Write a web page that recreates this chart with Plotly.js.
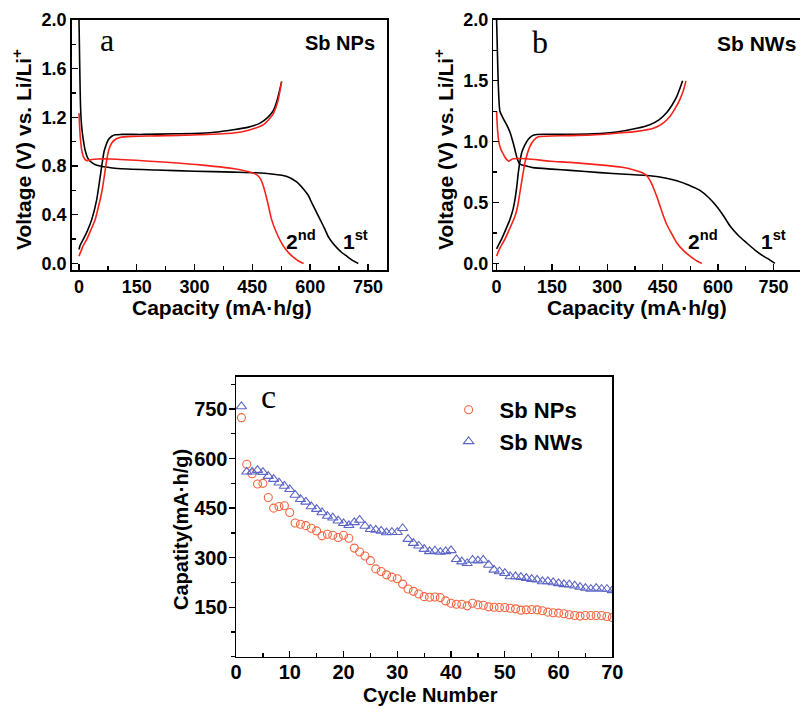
<!DOCTYPE html>
<html>
<head>
<meta charset="utf-8">
<script src="https://cdn.plot.ly/plotly-3.0.1.min.js"></script>
<style>
html,body{margin:0;padding:0;background:#fff;}
#chart{width:800px;height:706px;}
</style>
</head>
<body>
<div id="chart"></div>
<script>
// ---------- Panel a : Sb NPs ----------
const aDis1X = [0, 1, 2, 3, 4.3, 7, 11, 16, 22, 29, 40, 55, 100, 200, 300, 400, 460, 500, 540, 565, 583, 595, 604, 615, 626, 637, 647, 658, 669, 682, 695, 710, 725];
const aDis1Y = [2.0, 1.8, 1.6, 1.42, 1.26, 1.12, 1.02, 0.93, 0.87, 0.84, 0.815, 0.80, 0.78, 0.768, 0.758, 0.75, 0.745, 0.735, 0.715, 0.67, 0.61, 0.56, 0.50, 0.43, 0.36, 0.29, 0.22, 0.17, 0.13, 0.09, 0.06, 0.025, 0.0];
const aDis2X = [0, 1, 2.6, 5, 7, 11, 15.6, 20, 30, 50, 80, 184, 314, 418, 461, 472, 479, 486, 492, 500, 513, 531, 545, 557, 570, 583];
const aDis2Y = [1.235, 1.17, 1.07, 0.98, 0.93, 0.88, 0.855, 0.845, 0.852, 0.858, 0.858, 0.84, 0.81, 0.77, 0.73, 0.69, 0.63, 0.55, 0.47, 0.36, 0.25, 0.14, 0.085, 0.05, 0.02, 0.0];
const aChg1X = [0, 3, 11, 22, 33, 46, 54, 60, 65, 70, 76, 85, 94, 110, 167, 250, 314, 360, 401, 440, 470, 490, 505, 515, 526];
const aChg1Y = [0.115, 0.15, 0.197, 0.27, 0.36, 0.525, 0.69, 0.82, 0.92, 0.97, 1.016, 1.045, 1.057, 1.06, 1.06, 1.065, 1.07, 1.08, 1.098, 1.12, 1.153, 1.2, 1.26, 1.35, 1.494];
const aChg2X = [0, 5, 10, 20, 30, 42, 50, 55, 60, 65, 72, 78, 85, 95, 106, 141, 200, 314, 401, 440, 479, 495, 505, 516, 526];
const aChg2Y = [0.06, 0.1, 0.14, 0.197, 0.27, 0.36, 0.46, 0.525, 0.6, 0.7, 0.85, 0.94, 0.99, 1.02, 1.035, 1.044, 1.048, 1.057, 1.071, 1.095, 1.14, 1.19, 1.235, 1.33, 1.494];

// ---------- Panel b : Sb NWs ----------
const bDis1X = [0, 1, 2, 4.5, 9, 18, 27, 36, 45, 50, 56, 63, 75, 99, 150, 200, 280, 350, 415, 460, 488, 520, 551, 575, 596, 615, 632, 655, 677, 700, 723, 740, 754];
const bDis1Y = [2.0, 1.88, 1.76, 1.48, 1.25, 1.19, 1.14, 1.08, 0.99, 0.93, 0.86, 0.815, 0.805, 0.787, 0.775, 0.765, 0.746, 0.733, 0.72, 0.70, 0.68, 0.645, 0.6, 0.54, 0.47, 0.39, 0.31, 0.23, 0.17, 0.11, 0.06, 0.03, 0.0];
const bDis2X = [0, 1, 3, 6, 9, 14, 18, 23, 27, 33, 38, 45, 81, 145, 200, 280, 340, 370, 395, 407, 416, 425, 434, 443, 452, 461, 475, 488, 505, 524, 540, 556];
const bDis2Y = [1.25, 1.18, 1.08, 1.0, 0.96, 0.92, 0.9, 0.87, 0.855, 0.84, 0.85, 0.86, 0.86, 0.84, 0.83, 0.81, 0.79, 0.77, 0.745, 0.72, 0.68, 0.62, 0.55, 0.47, 0.39, 0.32, 0.24, 0.17, 0.11, 0.06, 0.025, 0.0];
const bChg1X = [0, 5, 13.5, 25, 36, 45, 50, 55, 59, 64, 68, 76, 86, 97, 108, 190, 260, 325, 380, 415, 440, 461, 475, 488, 497, 504];
const bChg1Y = [0.12, 0.15, 0.2, 0.28, 0.36, 0.45, 0.53, 0.64, 0.75, 0.85, 0.91, 0.97, 1.02, 1.05, 1.06, 1.06, 1.065, 1.08, 1.11, 1.14, 1.18, 1.24, 1.3, 1.37, 1.44, 1.5];
const bChg2X = [0, 8, 22.6, 36, 50, 57, 63, 70, 77, 84, 90, 100, 113, 190, 260, 325, 380, 425, 450, 470, 485, 497, 506, 513];
const bChg2Y = [0.06, 0.12, 0.2, 0.29, 0.39, 0.47, 0.58, 0.71, 0.83, 0.91, 0.96, 1.01, 1.04, 1.05, 1.055, 1.07, 1.085, 1.11, 1.15, 1.21, 1.28, 1.35, 1.42, 1.5];

// ---------- Panel c : cycling ----------
const cycles = Array.from({length: 70}, (_, i) => i + 1);
const npsCap = [724, 583, 554, 523, 525, 482, 450, 455, 457, 437,
  405, 401, 397, 389, 381, 366, 371, 368, 361, 368,
  359, 329, 317, 305, 291, 266, 258, 248, 241, 236,
  220, 205, 198, 190, 182, 180, 181, 179, 169, 162,
  159, 159, 154, 162, 157, 156, 151, 150, 149, 149,
  147, 145, 141, 142, 143, 142, 139, 135, 133, 132,
  130, 127, 125, 123, 125, 125, 125, 125, 122, 119];
const nwsCap = [758, 560, 560, 565, 559, 547, 538, 527, 517, 507,
  490, 477, 469, 455, 447, 437, 426, 421, 412, 404,
  398, 407, 414, 396, 386, 384, 381, 376, 377, 377,
  389, 356, 344, 336, 326, 319, 321, 317, 319, 322,
  295, 288, 283, 293, 291, 293, 278, 263, 258, 253,
  243, 243, 241, 238, 235, 233, 228, 228, 225, 222,
  219, 218, 215, 211, 208, 205, 208, 205, 205, 201];

const seriesNames = ['Sb NPs', 'Sb NWs'];
const xTicksAB = [0, 150, 300, 450, 600, 750];
const yTicksC = [150, 300, 450, 600, 750];

const BLACK = '#000000', RED = '#f5221a', ORANGE = '#f2643f', BLUE = '#5c66c6';
const FONT = 'Liberation Sans, Arial, sans-serif';
const SERIF = 'Liberation Serif, Times New Roman, serif';

function line(x, y, color, xa, ya) {
  return {x: x, y: y, xaxis: xa, yaxis: ya, type: 'scatter', mode: 'lines',
    line: {color: color, width: 1.6, shape: 'spline', smoothing: 0.6},
    showlegend: false, hoverinfo: 'skip'};
}

const traces = [
  line(aDis1X, aDis1Y, BLACK, 'x', 'y'),
  line(aChg1X, aChg1Y, BLACK, 'x', 'y'),
  line(aDis2X, aDis2Y, RED, 'x', 'y'),
  line(aChg2X, aChg2Y, RED, 'x', 'y'),
  line(bDis1X, bDis1Y, BLACK, 'x2', 'y2'),
  line(bChg1X, bChg1Y, BLACK, 'x2', 'y2'),
  line(bDis2X, bDis2Y, RED, 'x2', 'y2'),
  line(bChg2X, bChg2Y, RED, 'x2', 'y2'),
  {x: cycles, y: npsCap, xaxis: 'x3', yaxis: 'y3', type: 'scatter', mode: 'markers', name: seriesNames[0],
   marker: {symbol: 'circle-open', size: 8, color: ORANGE, line: {width: 1.1, color: ORANGE}}},
  {x: cycles, y: nwsCap, xaxis: 'x3', yaxis: 'y3', type: 'scatter', mode: 'markers', name: seriesNames[1],
   marker: {symbol: 'triangle-up-open', size: 9, color: BLUE, line: {width: 1.1, color: BLUE}}}
];

const tickFontAB = {family: FONT, size: 18, color: '#000', weight: 'bold'};
const tickFontC = {family: FONT, size: 20, color: '#000', weight: 'bold'};

function axisBase(extra) {
  return Object.assign({
    showline: true, linecolor: '#000', linewidth: 1.5, mirror: true,
    showgrid: false, zeroline: false, automargin: false,
    ticks: 'inside', ticklen: 6, tickwidth: 1.3, tickcolor: '#000'
  }, extra);
}

const layout = {
  width: 800, height: 706,
  margin: {l: 0, r: 0, t: 0, b: 0},
  paper_bgcolor: '#fff', plot_bgcolor: '#fff',
  showlegend: true,
  legend: {x: 0.547, y: 0.449, xanchor: 'left', yanchor: 'top',
    font: {family: FONT, size: 22, color: '#000', weight: 'bold'},
    bgcolor: 'rgba(0,0,0,0)', itemwidth: 52, tracegroupgap: 0},
  xaxis: axisBase({domain: [0.0896, 0.484], anchor: 'y', range: [-19, 800],
    tickmode: 'array', tickvals: xTicksAB, tickfont: tickFontAB,
    minor: {dtick: 75, tick0: 0, ticks: 'inside', ticklen: 4, tickcolor: '#000'}}),
  yaxis: axisBase({domain: [0.617, 0.9717], anchor: 'x', range: [-0.057, 2.0],
    tick0: 0, dtick: 0.4, tickformat: '.1f', tickfont: tickFontAB,
    minor: {dtick: 0.2, tick0: 0, ticks: 'inside', ticklen: 4, tickcolor: '#000'}}),
  xaxis2: axisBase({domain: [0.6166, 1.0], anchor: 'y2', range: [-9, 822],
    tickmode: 'array', tickvals: xTicksAB, tickfont: tickFontAB,
    minor: {dtick: 75, tick0: 0, ticks: 'inside', ticklen: 4, tickcolor: '#000'}}),
  yaxis2: axisBase({domain: [0.617, 0.9717], anchor: 'x2', range: [-0.057, 2.0], mirror: false,
    tick0: 0, dtick: 0.5, tickformat: '.1f', tickfont: tickFontAB,
    minor: {dtick: 0.25, tick0: 0, ticks: 'inside', ticklen: 4, tickcolor: '#000'}}),
  xaxis3: axisBase({domain: [0.295, 0.7654], anchor: 'y3', range: [0, 70],
    tick0: 0, dtick: 10, tickfont: tickFontC, ticklabelstandoff: -3,
    minor: {dtick: 5, tick0: 0, ticks: 'inside', ticklen: 4, tickcolor: '#000'}}),
  yaxis3: axisBase({domain: [0.0698, 0.4664], anchor: 'x3', range: [0, 848],
    tickmode: 'array', tickvals: yTicksC, tickfont: tickFontC, ticks: 'outside', ticklen: 6,
    ticklabelstandoff: -3,
    minor: {dtick: 75, tick0: 0, ticks: 'outside', ticklen: 4, tickcolor: '#000'}}),
  annotations: [
    // axis titles
    {text: 'Voltage (V) vs. Li/Li<sup>+</sup>', xref: 'paper', yref: 'paper', x: 22/800, y: 1 - 150/706,
     textangle: -90, showarrow: false, xanchor: 'center', yanchor: 'middle',
     font: {family: FONT, size: 21, color: '#000', weight: 'bold'}},
    {text: 'Capacity (mA·h/g)', xref: 'paper', yref: 'paper', x: 222/800, y: 1 - 308/706,
     showarrow: false, xanchor: 'center', yanchor: 'middle',
     font: {family: FONT, size: 21, color: '#000', weight: 'bold'}},
    {text: 'Voltage (V) vs. Li/Li<sup>+</sup>', xref: 'paper', yref: 'paper', x: 444/800, y: 1 - 150/706,
     textangle: -90, showarrow: false, xanchor: 'center', yanchor: 'middle',
     font: {family: FONT, size: 21, color: '#000', weight: 'bold'}},
    {text: 'Capacity (mA·h/g)', xref: 'paper', yref: 'paper', x: 637/800, y: 1 - 308/706,
     showarrow: false, xanchor: 'center', yanchor: 'middle',
     font: {family: FONT, size: 21, color: '#000', weight: 'bold'}},
    {text: 'Capatity(mA·h/g)', xref: 'paper', yref: 'paper', x: 181/800, y: 1 - 530/706,
     textangle: -90, showarrow: false, xanchor: 'center', yanchor: 'middle',
     font: {family: FONT, size: 20, color: '#000', weight: 'bold'}},
    {text: 'Cycle Number', xref: 'paper', yref: 'paper', x: 431/800, y: 1 - 695/706,
     showarrow: false, xanchor: 'center', yanchor: 'middle',
     font: {family: FONT, size: 20, color: '#000', weight: 'bold'}},
    // panel letters
    {text: 'a', xref: 'paper', yref: 'paper', x: 107/800, y: 1 - 40/706, showarrow: false,
     xanchor: 'center', yanchor: 'middle', font: {family: SERIF, size: 32, color: '#000'}},
    {text: 'b', xref: 'paper', yref: 'paper', x: 540/800, y: 1 - 42/706, showarrow: false,
     xanchor: 'center', yanchor: 'middle', font: {family: SERIF, size: 32, color: '#000'}},
    {text: 'c', xref: 'paper', yref: 'paper', x: 268/800, y: 1 - 396/706, showarrow: false,
     xanchor: 'center', yanchor: 'middle', font: {family: SERIF, size: 34, color: '#000'}},
    // sample labels
    {text: 'Sb NPs', xref: 'paper', yref: 'paper', x: 340/800, y: 1 - 43/706, showarrow: false,
     xanchor: 'center', yanchor: 'middle', font: {family: FONT, size: 20, color: '#000', weight: 'bold'}},
    {text: 'Sb NWs', xref: 'paper', yref: 'paper', x: 756/800, y: 1 - 44/706, showarrow: false,
     xanchor: 'center', yanchor: 'middle', font: {family: FONT, size: 21, color: '#000', weight: 'bold'}},
    // cycle labels
    {text: '2<sup>nd</sup>', xref: 'x', yref: 'y', x: 577, y: 0.19, showarrow: false,
     xanchor: 'center', yanchor: 'middle', font: {family: FONT, size: 21, color: '#000', weight: 'bold'}},
    {text: '1<sup>st</sup>', xref: 'x', yref: 'y', x: 717, y: 0.19, showarrow: false,
     xanchor: 'center', yanchor: 'middle', font: {family: FONT, size: 21, color: '#000', weight: 'bold'}},
    {text: '2<sup>nd</sup>', xref: 'x2', yref: 'y2', x: 559, y: 0.19, showarrow: false,
     xanchor: 'center', yanchor: 'middle', font: {family: FONT, size: 21, color: '#000', weight: 'bold'}},
    {text: '1<sup>st</sup>', xref: 'x2', yref: 'y2', x: 749, y: 0.19, showarrow: false,
     xanchor: 'center', yanchor: 'middle', font: {family: FONT, size: 21, color: '#000', weight: 'bold'}}
  ]
};

Plotly.newPlot('chart', traces, layout, {staticPlot: true, displayModeBar: false});
</script>
</body>
</html>
